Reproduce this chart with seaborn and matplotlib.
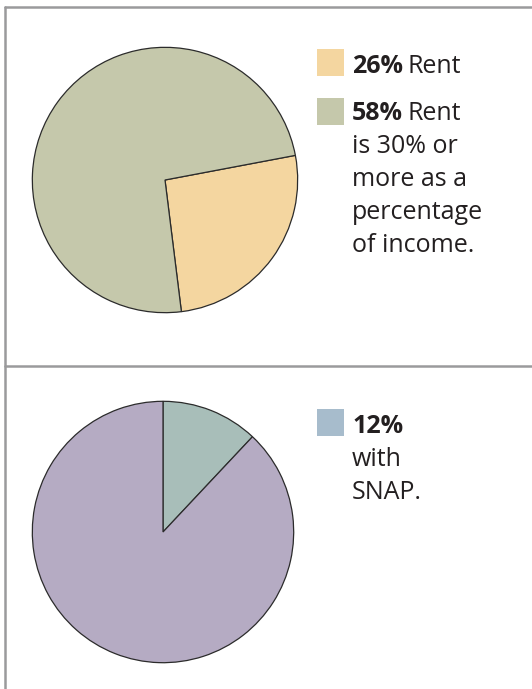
import seaborn as sns
import matplotlib.pyplot as plt
from matplotlib.lines import Line2D

# Datos
rent_values = [26, 74]
rent_colors = ["#f4d6a0", "#c5c8ab"]
snap_values = [12, 88]
snap_colors = ["#a8beb9", "#b5abc3"]

rent_legend = [("26%", ["Rent"]),
               ("58%", ["Rent", "is 30% or", "more as a", "percentage", "of income."])]
rent_legend_colors = ["#f4d6a0", "#c5c8ab"]
snap_legend = [("12%", ["", "with", "SNAP."])]
snap_legend_colors = ["#a7bccc"]

W, H = 532, 689
sns.set_style("white")
plt.rcParams["font.family"] = ["Open Sans", "DejaVu Sans"]

fig = plt.figure(figsize=(W / 100, H / 100), dpi=100)


def px_axes(cx, cy, r):
    return fig.add_axes([(cx - r) / W, 1 - (cy + r) / H, 2 * r / W, 2 * r / H])


def draw_pie(ax, values, colors, start):
    ax.pie(values, colors=colors, startangle=start, counterclock=False,
           wedgeprops=dict(edgecolor="#2b2b2b", linewidth=0.9))
    ax.set_xlim(-1.01, 1.01)
    ax.set_ylim(-1.01, 1.01)
    ax.set_aspect("equal")
    ax.axis("off")


ax1 = px_axes(165, 180, 134)
draw_pie(ax1, rent_values, rent_colors, 10.7)
ax2 = px_axes(163, 532, 132)
draw_pie(ax2, snap_values, snap_colors, 90)

# bordes
lc = "#9a9a9c"
for (x0, y0, x1, y1) in [(5, 7, W, 7), (5, 7, 5, H), (5, 366, W, 366)]:
    fig.add_artist(Line2D([x0 / W, x1 / W], [1 - y0 / H, 1 - y1 / H],
                          color=lc, linewidth=1.8, transform=fig.transFigure))

fs = 18
renderer = fig.canvas.get_renderer()


def legend_block(entries, colors, tops, baselines):
    for (bold, lines), col, top, base in zip(entries, colors, tops, baselines):
        fig.add_artist(plt.Rectangle((317 / W, 1 - (top + 27) / H), 27 / W, 27 / H,
                                     facecolor=col, edgecolor="none",
                                     transform=fig.transFigure))
        t = fig.text(352 / W, 1 - base / H, bold, fontsize=fs, fontweight="bold",
                     color="#231f20", va="baseline", ha="left")
        bb = t.get_window_extent(renderer)
        if lines[0]:
            fig.text((bb.x1 + 5) / W, 1 - base / H, lines[0], fontsize=fs,
                     color="#231f20", va="baseline", ha="left")
        for i, ln in enumerate(lines[1:], start=1):
            fig.text(352 / W, 1 - (base + 33 * i) / H, ln, fontsize=fs,
                     color="#231f20", va="baseline", ha="left")


legend_block(rent_legend, rent_legend_colors, [49, 98], [73, 120])
legend_block(snap_legend, snap_legend_colors, [409], [433])

fig.savefig("out.png", dpi=100)
